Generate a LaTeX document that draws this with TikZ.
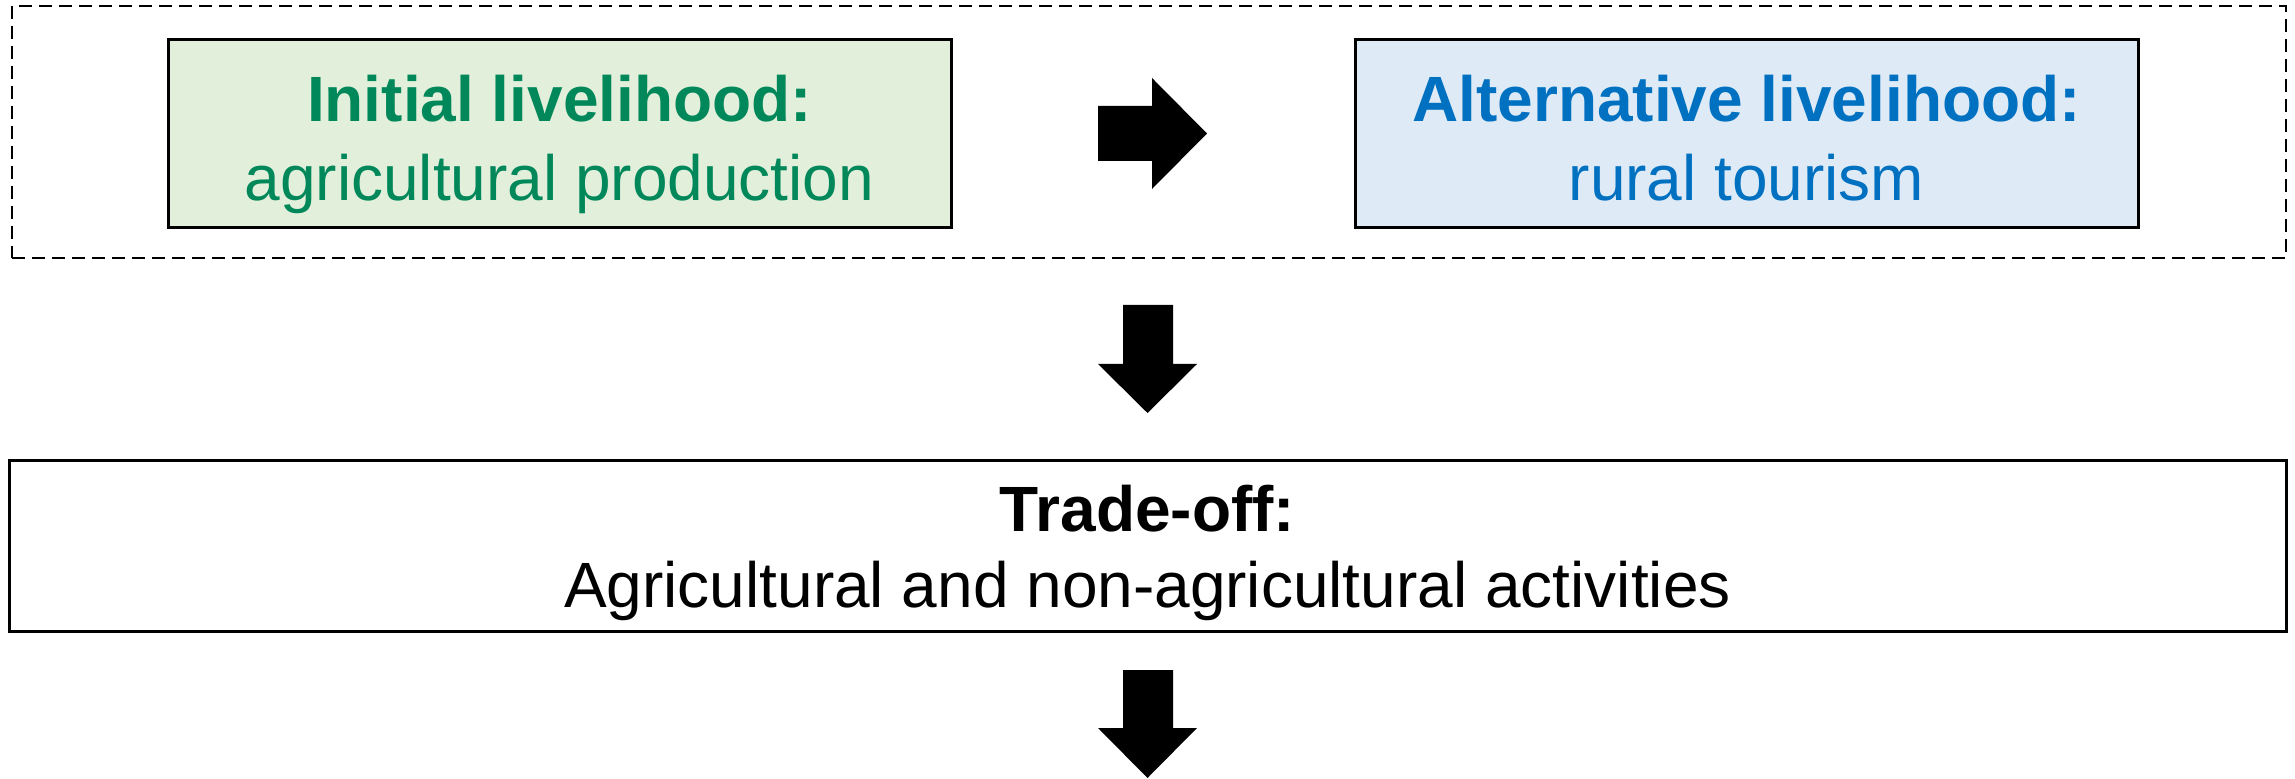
\documentclass[tikz,border=0pt]{standalone}
\usepackage{fontspec}
\setmainfont{Liberation Sans}
\definecolor{gtext}{HTML}{00875A}
\definecolor{gfill}{HTML}{E2EFDA}
\definecolor{btext}{HTML}{0070C0}
\definecolor{bfill}{HTML}{DEEBF7}
\begin{document}
\begin{tikzpicture}[x=0.5pt,y=-0.5pt,
  box/.style={draw=black,line width=1.5pt,inner sep=0pt,anchor=center},
  txt/.style={inner sep=0pt,anchor=base,font=\fontsize{32}{38}\selectfont},
  btxt/.style={inner sep=0pt,anchor=base,font=\fontsize{32}{38}\selectfont\bfseries},
  blockarrow/.style={fill=black,draw=none}]
\useasboundingbox (0,0) rectangle (2295,779);
% dashed frame
\node[draw=black,line width=1pt,dash pattern=on 6.5pt off 3.5pt,minimum width=1137pt,minimum height=126pt,inner sep=0pt] (frame) at (1149,132) {};
% boxes
\node[box,fill=gfill,minimum width=391.5pt,minimum height=94pt] (init) at (559.5,134) {};
\node[box,fill=bfill,minimum width=391.5pt,minimum height=94pt] (alt) at (1746.5,134) {};
\node[box,fill=white,minimum width=1138.5pt,minimum height=85.5pt] (trade) at (1147.5,546.5) {};
% texts
\node[btxt,text=gtext] (initA) at (559.5,122) {Initial livelihood:};
\node[txt,text=gtext] (initB) at (559.5,201) {agricultural production};
\node[btxt,text=btext] (altA) at (1746.5,122) {Alternative livelihood:};
\node[txt,text=btext] (altB) at (1746.5,201) {rural tourism};
\node[btxt] (tradeA) at (1147.5,532) {Trade-off:};
\node[txt] (tradeB) at (1147.5,608) {Agricultural and non-agricultural activities};
% right block arrow
\fill[blockarrow] (1098,106) -- (1152,106) -- (1152,78) -- (1207,133.5) -- (1152,189) -- (1152,161) -- (1098,161) -- cycle;
% down block arrows
\fill[blockarrow] (1123,305) -- (1173,305) -- (1173,364) -- (1197,364) -- (1147.5,413) -- (1098,364) -- (1123,364) -- cycle;
\fill[blockarrow] (1123,670) -- (1173,670) -- (1173,728) -- (1197,728) -- (1147.5,778) -- (1098,728) -- (1123,728) -- cycle;
\end{tikzpicture}
\end{document}
